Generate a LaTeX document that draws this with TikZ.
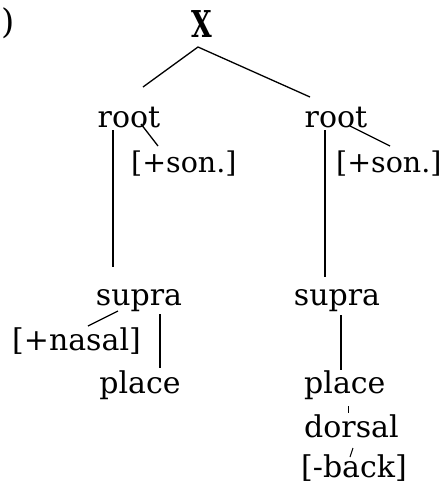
\documentclass[tikz,border=0pt]{standalone}
\usepackage{fontspec}
\setmainfont{DejaVu Serif}
\begin{document}
\begin{tikzpicture}[x=1pt,y=-1pt,
  lbl/.style={inner sep=0pt,font=\fontsize{30}{35}\selectfont},
  feat/.style={inner sep=0pt,font=\fontsize{28.5}{34}\selectfont},
  ln/.style={line width=1.3pt}]
\useasboundingbox (0,0) rectangle (445,491);
\node[inner sep=0pt,anchor=center,font=\fontsize{34}{40}\selectfont] (paren) at (8,23) {)};
\node[inner sep=0pt,anchor=base,font=\fontsize{37}{40}\selectfont\bfseries,xscale=0.72] (X) at (202,37) {X};
\node[lbl,anchor=base] (rootL) at (129,127) {root};
\node[lbl,anchor=base] (rootR) at (336,127) {root};
\node[feat,anchor=base west] (sonL) at (131,172) {[+son.]};
\node[feat,anchor=base west] (sonR) at (336,172) {[+son.]};
\node[lbl,anchor=base] (supraL) at (139,305) {supra};
\node[lbl,anchor=base] (supraR) at (337,305) {supra};
\node[lbl,anchor=base west] (nasal) at (12,350) {[+nasal]};
\node[lbl,anchor=base] (placeL) at (140,393) {place};
\node[lbl,anchor=base west] (placeR) at (304,393) {place};
\node[lbl,anchor=base west] (dorsal) at (304,437) {dorsal};
\node[lbl,anchor=base west] (back) at (301,477) {[-back]};
% connector ends
\coordinate (xa) at (198,47);
\coordinate (rLt) at (143,87);
\coordinate (rRt) at (310,97);
\coordinate (rLv1) at (113,130); \coordinate (rLv2) at (113,267);
\coordinate (rLd1) at (141,124); \coordinate (rLd2) at (158,146);
\coordinate (rRv1) at (325,130); \coordinate (rRv2) at (325,277);
\coordinate (rRd1) at (350,126); \coordinate (rRd2) at (390,146);
\coordinate (sLn1) at (118,311); \coordinate (sLn2) at (88,326);
\coordinate (sLp1) at (160,314); \coordinate (sLp2) at (160,368);
\coordinate (sRp1) at (341,315); \coordinate (sRp2) at (341,370);
\coordinate (pd1) at (348,406); \coordinate (pd2) at (348,413);
\coordinate (db1) at (353,448); \coordinate (db2) at (350,457);
\draw[ln] (rLt) -- (xa) -- (rRt);
\draw[ln] (rLv1) -- (rLv2);
\draw[ln] (rLd1) -- (rLd2);
\draw[ln] (rRv1) -- (rRv2);
\draw[ln] (rRd1) -- (rRd2);
\draw[ln] (sLn1) -- (sLn2);
\draw[ln] (sLp1) -- (sLp2);
\draw[ln] (sRp1) -- (sRp2);
\draw[line width=1pt] (pd1) -- (pd2);
\draw[line width=1pt] (db1) -- (db2);
\end{tikzpicture}
\end{document}
